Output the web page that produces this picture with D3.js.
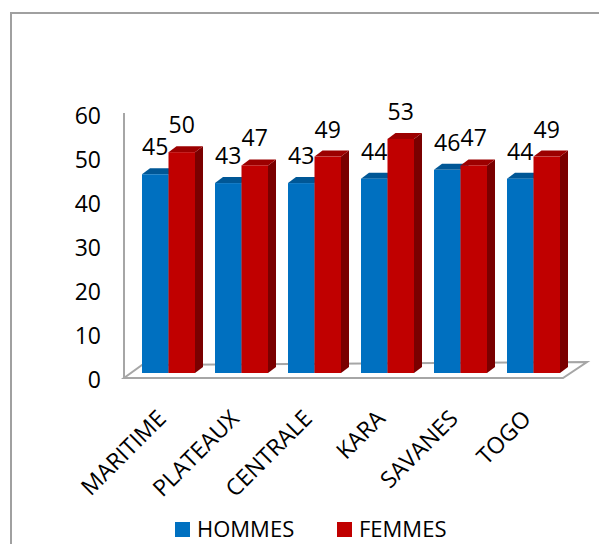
<!DOCTYPE html>
<html><head><meta charset="utf-8">
<script src="https://cdn.jsdelivr.net/npm/d3@7"></script>
<style>body{margin:0;background:#fff}svg{display:block}text{font-family:"Open Sans",sans-serif;fill:#000}</style>
</head><body><svg id="c" width="599" height="544"></svg>
<script>
const categories = ["MARITIME","PLATEAUX","CENTRALE","KARA","SAVANES","TOGO"];
const seriesNames = ["HOMMES","FEMMES"];
const hommes = [45,43,43,44,46,44];
const femmes = [50,47,49,53,47,49];
const yTicks = [0,10,20,30,40,50,60];

const colors = {HOMMES:{front:"#0070C0",top:"#005796",side:"#004a80"},
                FEMMES:{front:"#C00000",top:"#9c0000",side:"#7a0000"}};
const svg = d3.select("#c");
const W=599,H=544;
// outer frame
svg.append("rect").attr("x",11).attr("y",13).attr("width",W).attr("height",H)
  .attr("fill","#fff").attr("stroke","#a0a0a0").attr("stroke-width",2);

const x = d3.scaleBand().domain(categories).range([132,570]).paddingInner(20/73).paddingOuter(10/73);
const xs = d3.scaleBand().domain(seriesNames).range([0,x.bandwidth()]);
const y = d3.scaleLinear().domain([0,60]).range([373,108]);
const yLab = d3.scaleLinear().domain([0,60]).range([379,115]);
const ddx=8, ddy=-6;

// floor
const fl = 124, fr = 563, fy = 378;
svg.append("polygon")
  .attr("points",[[fl,fy],[fr,fy],[fr+24,fy-16],[fl+18,fy-13]].map(p=>p.join(",")).join(" "))
  .attr("fill","#fff").attr("stroke","#a6a6a6").attr("stroke-width",2).attr("stroke-linejoin","miter");
// axis line
svg.append("line").attr("x1",fl).attr("x2",fl).attr("y1",113).attr("y2",fy)
  .attr("stroke","#a6a6a6").attr("stroke-width",2);

// y axis labels
const ya = svg.append("g").attr("transform","translate(101,0)")
  .call(d3.axisLeft(yLab).tickValues(yTicks).tickSize(0).tickPadding(0));
ya.select(".domain").remove();
ya.selectAll("text").style("font-size","23px").attr("font-family","Open Sans").attr("dy","0.35em");

const data = categories.map((c,i)=>({c, HOMMES:hommes[i], FEMMES:femmes[i]}));
const g = svg.append("g");
data.forEach(d=>{
  seriesNames.forEach(s=>{
    const x0 = x(d.c)+xs(s), w = xs.bandwidth(), yt = y(d[s]), yb = y(0);
    const col = colors[s];
    g.append("polygon").attr("points",[[x0+w,yt],[x0+w+ddx,yt+ddy],[x0+w+ddx,yb+ddy],[x0+w,yb]].map(p=>p.join(",")).join(" "))
      .attr("fill",col.side);
    g.append("polygon").attr("points",[[x0,yt],[x0+ddx,yt+ddy],[x0+w+ddx,yt+ddy],[x0+w,yt]].map(p=>p.join(",")).join(" "))
      .attr("fill",col.top);
    g.append("rect").attr("x",x0).attr("y",yt).attr("width",w).attr("height",yb-yt).attr("fill",col.front);
  });
});
data.forEach(d=>{
  seriesNames.forEach(s=>{
    const x0 = x(d.c)+xs(s), w = xs.bandwidth(), yt = y(d[s]);
    g.append("text").attr("x",x0+w/2).attr("y",yt-19).attr("text-anchor","middle")
      .style("font-size","23px").text(d[s]);
  });
});

// category labels
const xa = svg.append("g");
categories.forEach(c=>{
  const cx = x(c)+x.bandwidth()/2;
  xa.append("text").attr("text-anchor","end")
    .attr("transform",`translate(${cx - 1},420) rotate(-45)`)
    .style("font-size","23px").text(c);
});

// legend
const leg = svg.append("g").attr("transform","translate(175,529)");
seriesNames.forEach((s,i)=>{
  const lg = leg.append("g").attr("transform",`translate(${i*162},0)`);
  lg.append("rect").attr("x",0).attr("y",-7).attr("width",15).attr("height",15).attr("fill",colors[s].front);
  lg.append("text").attr("x",22).attr("y",0).attr("dy","0.35em").style("font-size","22px").text(s);
});
</script></body></html>
